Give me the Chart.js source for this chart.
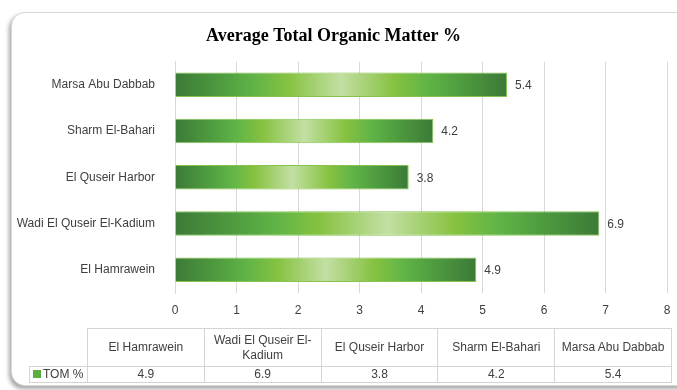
<!DOCTYPE html>
<html>
<head>
<meta charset="utf-8">
<script src="https://cdn.jsdelivr.net/npm/chart.js@4.4.1/dist/chart.umd.min.js"></script>
<style>
    html, body { margin: 0; padding: 0; background: #fff; }
    #wrap { position: relative; width: 677px; height: 390px; overflow: hidden; }
    #frame {
        position: absolute; left: 11px; top: 12px; width: 700px; height: 372px;
        border: 1px solid #d9d9d9; border-radius: 14px; background: #fff;
        box-shadow: -2px 3px 4px rgba(0, 0, 0, 0.35);
    }
    #chart { position: absolute; left: 0; top: 0; }
    #dataTable {
        position: absolute; left: 29px; top: 328px; width: 642px; table-layout: fixed;
        border-collapse: collapse;
        font-family: "Liberation Sans", Arial, sans-serif; font-size: 12px; color: #404040;
    }
    #dataTable td { border: 1px solid #d4d4d4; text-align: center; padding: 0; line-height: 15px; }
    #dataTable td.cat { height: 37px; }
    #dataTable td.val { height: 14px; }
    #dataTable td.blank { border: none; }
    #dataTable td.key { text-align: left; padding-left: 3px; white-space: nowrap; }
    .swatch { display: inline-block; width: 8px; height: 8px; background: #5cb040; margin-right: 2px; }
</style>
</head>
<body>
<div id="wrap">
    <div id="frame"></div>
    <canvas id="chart" width="677" height="390"></canvas>
    <table id="dataTable">
        <colgroup><col style="width:58px"><col span="5" style="width:116.8px"></colgroup>
    </table>
</div>
<script>
// Sites as listed in the data table (bottom to top on the chart)
const sites = ['El Hamrawein', 'Wadi El Quseir El-Kadium', 'El Quseir Harbor', 'Sharm El-Bahari', 'Marsa Abu Dabbab'];
const tomValues = [4.9, 6.9, 3.8, 4.2, 5.4];
const seriesName = 'TOM %';
const xTicks = [0, 1, 2, 3, 4, 5, 6, 7, 8];

const labelColor = '#404040';
const gridColor = '#d9d9d9';

// Horizontal green gradient: dark at both ends, pale in the middle
function barGradient(ctx) {
    const chart = ctx.chart;
    const xs = chart.scales.x;
    if (!xs || ctx.parsed === undefined) return '#6bb545';
    const x0 = xs.getPixelForValue(0);
    const x1 = xs.getPixelForValue(ctx.parsed.x);
    if (!isFinite(x0) || !isFinite(x1) || x1 === x0) return '#6bb545';
    const g = chart.ctx.createLinearGradient(x0, 0, x1, 0);
    g.addColorStop(0, '#3c7a38');
    g.addColorStop(0.14, '#4f9c3f');
    g.addColorStop(0.24, '#60b447');
    g.addColorStop(0.34, '#86c240');
    g.addColorStop(0.5, '#c3dfa3');
    g.addColorStop(0.66, '#86c240');
    g.addColorStop(0.76, '#60b447');
    g.addColorStop(0.86, '#4f9c3f');
    g.addColorStop(1, '#3c7a38');
    return g;
}

// Value written just past the end of each bar
const valueLabels = {
    id: 'valueLabels',
    afterDatasetsDraw(chart) {
        const ctx = chart.ctx;
        const meta = chart.getDatasetMeta(0);
        ctx.save();
        ctx.font = '12px "Liberation Sans", Arial, sans-serif';
        ctx.fillStyle = labelColor;
        ctx.textAlign = 'left';
        ctx.textBaseline = 'middle';
        meta.data.forEach((bar, i) => {
            ctx.fillText(tomValues[i].toFixed(1), bar.x + 8, bar.y + 1);
        });
        ctx.restore();
    }
};

new Chart(document.getElementById('chart'), {
    type: 'bar',
    data: {
        labels: sites,
        datasets: [{
            label: seriesName,
            data: tomValues,
            backgroundColor: barGradient,
            borderColor: '#86c44f',
            borderWidth: 1,
            barPercentage: 0.53,
            categoryPercentage: 1
        }]
    },
    options: {
        indexAxis: 'y',
        responsive: false,
        animation: false,
        layout: { padding: { left: 0, right: 10, top: 0, bottom: 0 } },
        plugins: {
            legend: { display: false },
            tooltip: { enabled: false },
            title: {
                display: true,
                text: 'Average Total Organic Matter %',
                color: '#000',
                font: { family: '"Liberation Serif", "Times New Roman", serif', size: 18, weight: 'bold' },
                padding: { top: 26, bottom: 14 }
            }
        },
        scales: {
            x: {
                min: 0,
                max: 8,
                afterBuildTicks(scale) {
                    scale.ticks = xTicks.map(v => ({ value: v }));
                },
                afterFit(scale) {
                    scale.height = 97;
                    scale.paddingLeft = 0;
                    scale.paddingRight = 0;
                },
                grid: { color: gridColor, drawTicks: false },
                border: { display: false },
                ticks: {
                    color: labelColor,
                    padding: 10,
                    font: { family: '"Liberation Sans", Arial, sans-serif', size: 12 }
                }
            },
            y: {
                reverse: true,
                afterFit(scale) { scale.width = 175; },
                grid: { display: false },
                border: { color: gridColor },
                ticks: {
                    color: labelColor,
                    padding: 12,
                    font: { family: '"Liberation Sans", Arial, sans-serif', size: 12 }
                }
            }
        }
    },
    plugins: [valueLabels]
});

// Data table under the chart
const table = document.getElementById('dataTable');
const headRow = table.insertRow();
headRow.insertCell().className = 'blank';
sites.forEach(s => {
    const c = headRow.insertCell();
    c.className = 'cat';
    c.textContent = s;
});
const valRow = table.insertRow();
const key = valRow.insertCell();
key.className = 'key';
key.innerHTML = '<span class="swatch"></span>';
key.appendChild(document.createTextNode(seriesName));
tomValues.forEach(v => {
    const c = valRow.insertCell();
    c.className = 'val';
    c.textContent = v.toFixed(1);
});
</script>
</body>
</html>
